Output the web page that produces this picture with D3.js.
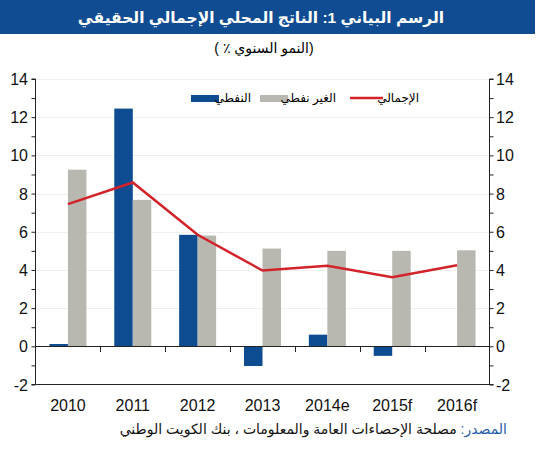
<!DOCTYPE html>
<html>
<head>
<meta charset="utf-8">
<script src="https://cdn.jsdelivr.net/npm/d3@7"></script>
<style>
  body { margin: 0; background: #fff; }
  svg { display: block; font-family: "Liberation Sans", "DejaVu Sans", sans-serif; }
</style>
</head>
<body>
<div id="chart"></div>
<script>
// data
const years = ["2010", "2011", "2012", "2013", "2014e", "2015f", "2016f"];
const oilGrowth = [0.12, 12.45, 5.84, -1.03, 0.61, -0.5, null];
const nonOilGrowth = [9.25, 7.67, 5.8, 5.12, 5.0, 5.0, 5.03];
const totalGrowth = [7.45, 8.58, 5.84, 3.97, 4.22, 3.62, 4.25];
const yTicks = [-2, 0, 2, 4, 6, 8, 10, 12, 14];
const legendLabels = ["الإجمالي", "الغير نفطي", "النفطي"];

const width = 536, height = 450;
const blue = "#0e4c92", grey = "#b8b8b1", red = "#d2232a";

const svg = d3.select("#chart")
              .append("svg")
              .attr("width", width)
              .attr("height", height);

// title banner
svg.append("rect")
   .attr("x", 0).attr("y", 0)
   .attr("width", 535).attr("height", 34)
   .attr("fill", "#0f4c92");
svg.append("text")
   .attr("x", 261).attr("y", 23)
   .attr("text-anchor", "middle")
   .attr("fill", "#fff")
   .style("font-weight", "bold")
   .style("font-size", "15.5px")
   .text("الرسم البياني 1: الناتج المحلي الإجمالي الحقيقي");
// LRM marks keep the "( ٪" on the left like the original
svg.append("text")
   .attr("x", 264).attr("y", 53)
   .attr("text-anchor", "middle")
   .attr("fill", "#000")
   .style("font-size", "14px")
   .text("\u200E( ٪ \u2067النمو السنوي\u2069)\u200E");

const xScale = d3.scaleBand()
                 .domain(years)
                 .range([35.5, 489.5])
                 .padding(0);
const yScale = d3.scaleLinear()
                 .domain([-2, 14])
                 .range([384.5, 79]);
const barW = 18.5;
const cx = d => xScale(d) + xScale.bandwidth() / 2;

// gridlines
svg.append("g")
   .selectAll("line")
   .data(yTicks.filter(d => d > 0))
   .enter()
   .append("line")
   .attr("x1", 36).attr("x2", 489)
   .attr("y1", d => Math.round(yScale(d)) + 0.5)
   .attr("y2", d => Math.round(yScale(d)) + 0.5)
   .attr("stroke", "#efefef")
   .attr("stroke-width", 1);

// bars
svg.append("g")
   .selectAll("rect")
   .data(years.map((y, i) => ({year: y, v: oilGrowth[i]})).filter(d => d.v !== null))
   .enter()
   .append("rect")
   .attr("x", d => cx(d.year) - barW)
   .attr("width", barW)
   .attr("y", d => yScale(Math.max(0, d.v)))
   .attr("height", d => Math.abs(yScale(d.v) - yScale(0)))
   .attr("fill", blue);
svg.append("g")
   .selectAll("rect")
   .data(years.map((y, i) => ({year: y, v: nonOilGrowth[i]})))
   .enter()
   .append("rect")
   .attr("x", d => cx(d.year))
   .attr("width", barW)
   .attr("y", d => yScale(Math.max(0, d.v)))
   .attr("height", d => Math.abs(yScale(d.v) - yScale(0)))
   .attr("fill", grey);

// total line
const line = d3.line()
               .x((d, i) => cx(years[i]))
               .y(d => yScale(d));
svg.append("path")
   .datum(totalGrowth)
   .attr("d", line)
   .attr("fill", "none")
   .attr("stroke", red)
   .attr("stroke-width", 2.5);

// axes
const minor = d3.range(-2, 15, 1);
const leftAxis = d3.axisLeft(yScale).tickValues(minor).tickSize(4).tickFormat("");
const rightAxis = d3.axisRight(yScale).tickValues(minor).tickSize(4).tickFormat("");
svg.append("g")
   .attr("transform", "translate(35.5,0)")
   .call(leftAxis)
   .call(g => g.select(".domain").attr("d", "M-4," + yScale(14) + "H0V" + yScale(-2) + "H-4"));
svg.append("g")
   .attr("transform", "translate(489.5,0)")
   .call(rightAxis)
   .call(g => g.select(".domain").attr("d", "M4," + yScale(14) + "H0V" + yScale(-2) + "H4"));
svg.selectAll(".tick line, .domain").attr("stroke", "#222");

// bottom line at -2
svg.append("line")
   .attr("x1", 35.5).attr("x2", 489.5)
   .attr("y1", yScale(-2)).attr("y2", yScale(-2))
   .attr("stroke", "#222");

// zero line with category ticks
const zeroAxis = d3.axisBottom(xScale).tickSize(0).tickFormat("");
svg.append("g")
   .attr("transform", "translate(0," + (Math.round(yScale(0)) + 0.5) + ")")
   .call(zeroAxis)
   .call(g => g.select(".domain").attr("d", "M35.5,0H489.5").attr("stroke", "#222"));
svg.append("g")
   .selectAll("line")
   .data(years.slice(1))
   .enter()
   .append("line")
   .attr("x1", d => Math.round(xScale(d)) + 0.5)
   .attr("x2", d => Math.round(xScale(d)) + 0.5)
   .attr("y1", Math.round(yScale(0)))
   .attr("y2", Math.round(yScale(0)) + 6)
   .attr("stroke", "#222");

// tick labels
svg.append("g")
   .selectAll("text")
   .data(yTicks)
   .enter()
   .append("text")
   .attr("x", 28)
   .attr("y", d => yScale(d) + 6)
   .attr("text-anchor", "end")
   .style("font-size", "16px")
   .attr("fill", "#111")
   .text(d => d);
svg.append("g")
   .selectAll("text")
   .data(yTicks)
   .enter()
   .append("text")
   .attr("x", 496)
   .attr("y", d => yScale(d) + 6)
   .attr("text-anchor", "start")
   .style("font-size", "16px")
   .attr("fill", "#111")
   .text(d => d);
svg.append("g")
   .selectAll("text")
   .data(years)
   .enter()
   .append("text")
   .attr("x", d => cx(d))
   .attr("y", 411)
   .attr("text-anchor", "middle")
   .style("font-size", "16px")
   .attr("fill", "#111")
   .text(d => d);

// legend
const legend = svg.append("g").style("font-size", "12px");
legend.append("line")
      .attr("x1", 350).attr("x2", 383)
      .attr("y1", 98).attr("y2", 98)
      .attr("stroke", red).attr("stroke-width", 2.5);
legend.append("text").attr("x", 419).attr("y", 102).attr("direction", "rtl").attr("text-anchor", "start").text(legendLabels[0]);
legend.append("rect").attr("x", 260).attr("y", 95).attr("width", 28).attr("height", 7).attr("fill", grey);
legend.append("text").attr("x", 336).attr("y", 102).attr("direction", "rtl").attr("text-anchor", "start").text(legendLabels[1]);
legend.append("rect").attr("x", 191).attr("y", 95).attr("width", 28).attr("height", 7).attr("fill", blue);
legend.append("text").attr("x", 251).attr("y", 102).attr("direction", "rtl").attr("text-anchor", "start").text(legendLabels[2]);

// source
const src = svg.append("text")
               .attr("x", 507).attr("y", 434)
               .attr("direction", "rtl")
               .attr("text-anchor", "start")
               .style("font-size", "14px");
src.append("tspan").attr("fill", "#1f5fa8").text("المصدر: ");
src.append("tspan").attr("fill", "#111").text("مصلحة الإحصاءات العامة والمعلومات ، بنك الكويت الوطني");
</script>
</body>
</html>
